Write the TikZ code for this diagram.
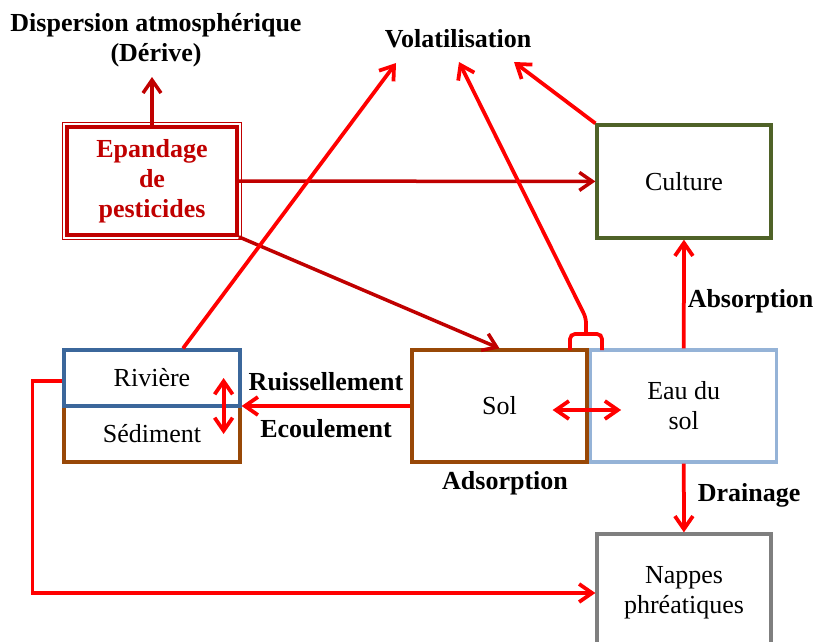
\documentclass[tikz,border=0pt]{standalone}
\usepackage{fontspec}
\setmainfont{Liberation Serif}
\usetikzlibrary{arrows.meta, positioning}

\definecolor{darkred}{HTML}{C00000}
\definecolor{cultgreen}{HTML}{4F6228}
\definecolor{riverblue}{HTML}{3B679B}
\definecolor{soilbrown}{HTML}{984807}
\definecolor{waterblue}{HTML}{95B3D7}
\definecolor{nappegray}{HTML}{7F7F7F}

\begin{document}
\begin{tikzpicture}[x=1pt, y=-1pt, >={Straight Barb[length=13pt, width=18pt]},
    font=\fontsize{26}{30}\selectfont,
    box/.style={draw, line width=3.25pt, align=center, inner sep=0pt},
    flow/.style={red, line width=3.75pt},
    lbl/.style={font=\fontsize{26}{30}\selectfont\bfseries, text=black, align=center, inner sep=2pt}]
    \clip (0,0) rectangle (816,642);

    \node[lbl] (disp) at (156,40) {Dispersion atmosphérique\\(Dérive)};
    \node[lbl] (vol) at (458,39) {Volatilisation};
    \node[box, draw=darkred, text=darkred, line width=3.75pt, font=\fontsize{26}{30}\selectfont\bfseries,
          minimum width=170pt, minimum height=108pt] (ep) at (152,181) {Epandage\\de\\pesticides};
    \node[box, draw=cultgreen, minimum width=174pt, minimum height=113pt] (cult) at (684,181.5) {Culture};
    \node[box, draw=soilbrown, minimum width=176pt, minimum height=56pt] (sed) at (152,434) {Sédiment};
    \node[box, draw=riverblue, minimum width=176pt, minimum height=56pt] (riv) at (152,378) {Rivière};
    \node[box, draw=soilbrown, minimum width=175pt, minimum height=112pt] (sol) at (499.5,406) {Sol};
    \node[box, draw=waterblue, minimum width=186pt, minimum height=112pt, right=0.5pt of sol] (eau) {Eau du\\sol};
    \node[box, draw=nappegray, minimum width=174pt, minimum height=118pt] (nap) at (684,593) {Nappes\\phréatiques};
    \node[lbl] (ads) at (505,483) {Adsorption};

    % double border
    \draw[darkred, line width=1.3pt] ([shift={(-2.6,2.6)}]ep.south west) rectangle ([shift={(2.6,-2.6)}]ep.north east);

    \coordinate (der) at (152,77);
    \coordinate (v1) at (396,63);
    \coordinate (v2) at (459,62);
    \coordinate (v3) at (514,62);
    \coordinate (brL) at (570,350);
    \coordinate (brM) at (586,334);
    \coordinate (brR) at (602,350);

    \path[->, darkred, line width=3.5pt]
    (ep) edge (der)
    (ep) edge (cult)
    (ep.south east) edge (sol.north);

    \path[->, flow]
    ([xshift=31pt]riv.north) edge (v1)
    (cult.north west) edge (v3)
    (eau) edge node[lbl, right, pos=0.43] {Absorption} (cult)
    (eau) edge node[lbl, right=10pt, pos=0.46] {Drainage} (nap)
    (sol.west) edge node[lbl, above=11pt] {Ruissellement} node[lbl, below=10pt] {Ecoulement} (sol.west -| riv.east);

    \path[<->, flow]
    ([xshift=-18pt]riv.east) edge ([xshift=-18pt]sed.east)
    ([shift={(-36,4)}]sol.east) edge ([shift={(32,4)}]eau.west);

    \draw[flow, rounded corners=5pt] (brL) |- (brM) -| (brR);
    \draw[->, flow, rounded corners=5pt] (brM) -- ++(0,-16) -- (v2);
    \draw[->, flow] ([yshift=-3pt]riv.west) -- ++(-30,0) |- (nap.west);
\end{tikzpicture}
\end{document}
